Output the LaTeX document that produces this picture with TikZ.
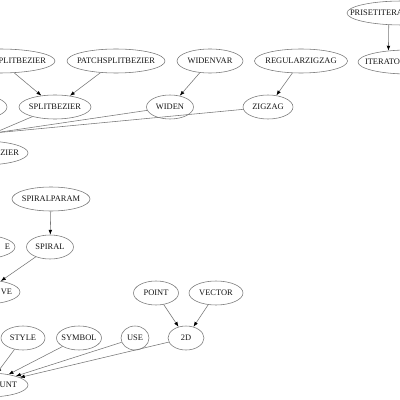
\documentclass[tikz,border=0pt]{standalone}
\usepackage{fontspec}
\setmainfont{Liberation Serif}
\usepackage{xcolor}
\usepackage{tikz}
\usetikzlibrary{arrows.meta, positioning, shapes.geometric, calc}
\definecolor{gvline}{HTML}{777777}
\definecolor{gvtext}{HTML}{141414}

\begin{document}
\begin{tikzpicture}[
    x=0.025cm, y=-0.025cm,
    gv/.style={draw=gvline, ellipse, inner xsep=-20pt, inner ysep=0pt,
               minimum width=#1*0.025cm, minimum height=24*0.025cm,
               font=\fontsize{6}{7}\selectfont, text=gvtext},
    gvcut/.style 2 args={gv=#1, text width=#2*0.025cm},
    dep/.style={draw=gvline, line width=0.4pt, -{Latex[length=3.5pt, width=2.6pt, black]}},
]
    \useasboundingbox (0,0) rectangle (400,400);
    \clip (0,0) rectangle (400,400);

    % Top row
    \node[gvcut={110}{104}, align=left] (preset) at (402, 13) {PRISETITERA};
    \node[gvcut={110}{92}, align=right] (plitbez) at (0, 61) {PLITBEZIER};
    \node[gv=98] (patchsplit) at (116, 61) {PATCHSPLITBEZIER};
    \node[gv=66] (widenvar) at (210, 61) {WIDENVAR};
    \node[gv=93] (regzigzag) at (301, 61) {REGULARZIGZAG};
    \node[gvcut={100}{86}, align=left] (iterato) at (408, 62) {ITERATO};

    % Second row
    \node[gv=60] (leftcut) at (-23, 107) {};
    \node[gv=72] (splitbez) at (55, 107) {SPLITBEZIER};
    \node[gv=47] (widen) at (170, 107) {WIDEN};
    \node[gv=50] (zigzag) at (268, 107) {ZIGZAG};
    \coordinate (offleft) at (-6, 133);
    \node[gvcut={90}{72}, align=right] (zier) at (-17, 153) {ZIER};

    % Spiral group
    \node[gv=78] (spiralparam) at (51, 199) {SPIRALPARAM};
    \node[gvcut={70}{60}, align=right] (ecut) at (-20, 247) {E};
    \node[gv=47] (spiral) at (50, 247) {SPIRAL};
    \node[gvcut={70}{54}, align=right] (vecut) at (-15, 292) {VE};

    % Bottom group
    \node[gv=45] (point) at (156, 293) {POINT};
    \node[gv=54] (vector) at (216, 293) {VECTOR};
    \node[gv=44] (style) at (23, 338) {STYLE};
    \node[gv=45] (symbol) at (79, 338) {SYMBOL};
    \node[gv=28] (use) at (135, 338) {USE};
    \node[gv=36] (twod) at (186, 338) {2D};
    \node[gvcut={80}{58}, align=right] (unt) at (-12, 385) {UNT};

    % Dependencies
    \draw[dep] (preset.222) -- (iterato.150);
    \draw[dep] (plitbez) -- (splitbez);
    \draw[dep] (patchsplit) -- (splitbez);
    \draw[dep] (widenvar) -- (widen);
    \draw[dep] (regzigzag) -- (zigzag);
    \draw[dep] (splitbez) -- (offleft);
    \draw[dep] (widen) -- (offleft);
    \draw[dep] (zigzag) -- (offleft);
    \draw[dep] (spiralparam) -- (spiral);
    \draw[dep] (spiral) -- (vecut);
    \draw[dep] (point) -- (twod);
    \draw[dep] (vector) -- (twod);
    \draw[dep] (style) -- (unt);
    \draw[dep] (symbol) -- (unt);
    \draw[dep] (use) -- (unt);
    \draw[dep] (twod) -- (unt);
\end{tikzpicture}
\end{document}
